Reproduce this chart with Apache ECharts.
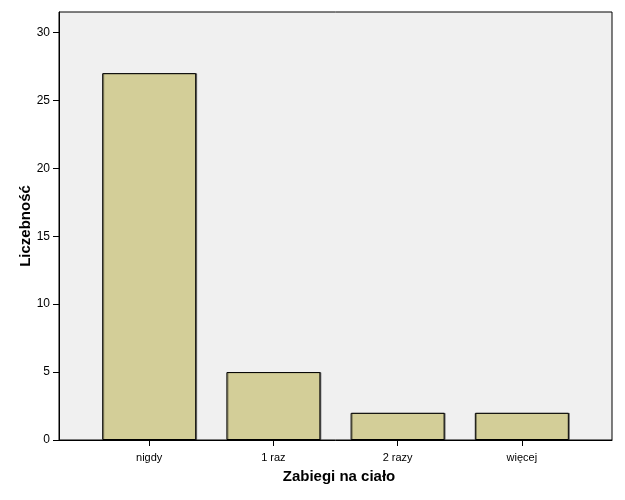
<!DOCTYPE html>
<html>
<head>
<meta charset="utf-8">
<script src="https://cdn.jsdelivr.net/npm/echarts@6/dist/echarts.min.js"></script>
<style>html,body{margin:0;padding:0;background:#fff}#c{width:625px;height:500px}</style>
</head>
<body>
<div id="c"></div>
<script>
var categories = ['nigdy', '1 raz', '2 razy', 'więcej'];
var counts = [27, 5, 2, 2];
var yTicks = [0, 5, 10, 15, 20, 25, 30];

var chart = echarts.init(document.getElementById('c'), null, {renderer: 'canvas'});
var idx = categories.map(function (c, i) { return i; });
chart.setOption({
  animation: false,
  backgroundColor: '#ffffff',
  grid: {left: 59, right: 13, top: 12, bottom: 60, show: true, backgroundColor: '#f0f0f0', borderColor: '#000', borderWidth: 1},
  xAxis: {
    type: 'value', min: -0.726, max: 3.726,
    name: 'Zabiegi na ciało', nameLocation: 'middle', nameGap: 29, nameMoveOverlap: false,
    nameTextStyle: {fontFamily: 'Liberation Sans', fontSize: 15, fontWeight: 'bold', color: '#000', padding: [0, 0, 0, 7]},
    axisLine: {show: true, onZero: false, lineStyle: {color: '#000', width: 1}},
    axisTick: {show: true, length: 6, customValues: idx, lineStyle: {color: '#000'}},
    axisLabel: {customValues: idx, margin: 12, fontFamily: 'Liberation Sans', fontSize: 11, color: '#000',
      formatter: function (v) { return categories[Math.round(v)]; }},
    splitLine: {show: false}
  },
  yAxis: {
    type: 'value', min: 0, max: 31.5, interval: 5,
    name: 'Liczebność', nameLocation: 'middle', nameGap: 26, nameMoveOverlap: false,
    nameTextStyle: {fontFamily: 'Liberation Sans', fontSize: 15, fontWeight: 'bold', color: '#000'},
    axisLine: {show: true, onZero: false, lineStyle: {color: '#000', width: 1}},
    axisTick: {show: true, length: 6, customValues: yTicks, lineStyle: {color: '#000'}},
    axisLabel: {customValues: yTicks, margin: 9, fontFamily: 'Liberation Sans', fontSize: 12, color: '#000'},
    splitLine: {show: false}
  },
  series: [{
    type: 'bar',
    barWidth: 94,
    data: counts.map(function (v, i) { return [i, v]; }),
    itemStyle: {color: '#d3ce98', borderColor: '#000', borderWidth: 1,
      shadowColor: 'rgba(0,0,0,0.45)', shadowOffsetX: 1, shadowOffsetY: 0, shadowBlur: 0}
  }]
});
</script>
</body>
</html>
